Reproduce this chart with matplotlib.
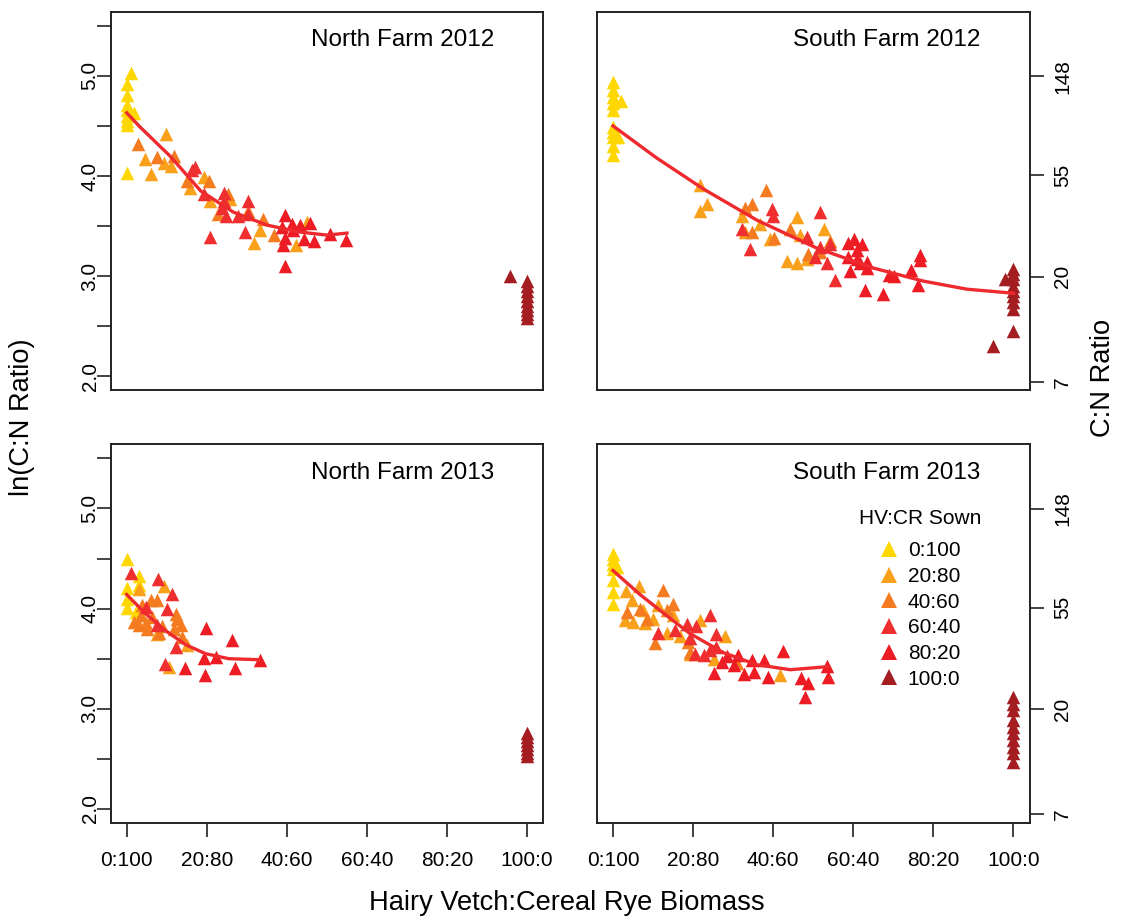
import numpy as np
import matplotlib
matplotlib.use('Agg')
import matplotlib.pyplot as plt
from matplotlib.lines import Line2D

plt.rcParams['font.family'] = ['Liberation Sans', 'DejaVu Sans']

# sown mixtures (legend) and their colours
sown = ['0:100', '20:80', '40:60', '60:40', '80:20', '100:0']
sown_colors = ['#FFD700', '#F9A11B', '#F47B20', '#EE2E2F', '#ED1C24', '#A31D21']

x_ticks = [0, 20, 40, 60, 80, 100]
x_ticklabels = ['0:100', '20:80', '40:60', '60:40', '80:20', '100:0']
ln_ticks = [2.0, 2.5, 3.0, 3.5, 4.0, 4.5, 5.0, 5.5]
ln_ticklabels = ['2.0', '', '3.0', '', '4.0', '', '5.0', '']
cn_ticks = [7, 20, 55, 148]

# North Farm 2012 (x = HV % of biomass, y = ln(C:N), g = sown mixture index)
nf12_x = [1.1, 0, 0, 0, 0, 0, 0, 0, 1.8, 0,
          9.7, 4.6, 9.2, 11.0, 6.0, 19.2, 15.8, 20.8, 25.8, 31.7, 33.3, 45.0, 42.3,
          2.9, 7.6, 11.9, 20.6, 15.0, 25.4, 22.9, 30.2, 34.0, 36.7,
          17.0, 16.2, 19.2, 24.3, 24.3, 23.7, 24.8, 20.7, 30.2, 30.4, 27.9, 29.6,
          39.6, 38.8, 41.2, 43.3, 45.8, 39.6, 39.0, 44.2, 46.7, 39.6, 50.8, 54.7, 41.4,
          95.7, 100, 100, 100, 100, 100, 100, 100, 100, 100]
nf12_y = [5.03, 4.92, 4.81, 4.71, 4.66, 4.60, 4.55, 4.51, 4.63, 4.03,
          4.42, 4.17, 4.13, 4.10, 4.02, 3.99, 3.88, 3.75, 3.77, 3.33, 3.46, 3.54, 3.31,
          4.32, 4.19, 4.20, 3.95, 3.95, 3.82, 3.62, 3.65, 3.57, 3.41,
          4.09, 4.06, 3.82, 3.83, 3.75, 3.68, 3.60, 3.39, 3.75, 3.62, 3.60, 3.44,
          3.61, 3.49, 3.52, 3.51, 3.53, 3.38, 3.31, 3.37, 3.35, 3.10, 3.42, 3.36, 3.46,
          3.00, 2.95, 2.90, 2.85, 2.80, 2.75, 2.70, 2.66, 2.62, 2.58]
nf12_g = [0] * 10 + [1] * 13 + [2] * 10 + [3] * 12 + [4] * 13 + [5] * 10

# South Farm 2012
sf12_x = [0, 0, 0, 0, 0, 2.0, 0, 0, 0, 1.3, 0, 0,
          21.75, 23.4, 21.6, 32.2, 36.75, 39.25, 45.9, 43.4, 45.9, 48.4, 52.6, 33.0, 46.75,
          38.25, 33.0, 34.8, 34.7, 40.1, 44.1, 48.8, 51.75, 54.25,
          39.7, 39.9, 32.2, 34.25, 48.4, 51.75, 50.5, 53.4, 51.75, 54.25, 55.5,
          58.8, 60.1, 62.2, 60.9, 58.8, 60.9, 59.25, 61.75, 63.4, 63.4, 63.0, 67.4, 68.8,
          70.25, 74.4, 76.6, 76.6, 76.1,
          100, 100, 100, 100, 100, 100, 100, 100, 100, 94.9, 98.0]
sf12_y = [4.94, 4.86, 4.79, 4.73, 4.66, 4.75, 4.49, 4.44, 4.39, 4.39, 4.30, 4.21,
          3.91, 3.72, 3.65, 3.60, 3.52, 3.37, 3.59, 3.15, 3.13, 3.17, 3.47, 3.44, 3.41,
          3.86, 3.68, 3.72, 3.44, 3.38, 3.47, 3.22, 3.24, 3.35,
          3.67, 3.60, 3.47, 3.27, 3.39, 3.64, 3.19, 3.13, 3.29, 3.32, 2.96,
          3.33, 3.37, 3.32, 3.26, 3.19, 3.17, 3.05, 3.13, 3.14, 3.08, 2.86, 2.82, 3.01,
          3.00, 3.06, 3.21, 3.16, 2.91,
          3.07, 3.02, 2.97, 2.90, 2.85, 2.80, 2.74, 2.67, 2.45, 2.30, 2.97]
sf12_g = [0] * 12 + [1] * 13 + [2] * 9 + [3] * 11 + [4] * 18 + [5] * 11

# North Farm 2013
nf13_x = [0, 3.0, 0, 0, 0, 3.0, 2.2,
          3.0, 9.3, 10.5, 15.1, 7.6,
          6.0, 7.6, 3.9, 1.8, 3.0, 5.1, 3.5, 6.4, 12.2, 12.6, 13.5, 8.9, 11.8, 8.0, 13.9, 4.7,
          1.0, 7.9, 11.2, 4.7, 10.1, 7.6, 12.4, 9.5,
          19.7, 26.2, 14.5, 19.3, 22.4, 19.5, 27.0, 33.2,
          100, 100, 100, 100, 100, 100, 100]
nf13_y = [4.50, 4.33, 4.21, 4.10, 4.01, 4.24, 3.97,
          4.20, 4.23, 3.42, 3.64, 3.75,
          4.09, 4.09, 4.04, 3.87, 3.84, 3.80, 3.94, 3.92, 3.95, 3.90, 3.84, 3.83, 3.80, 3.76, 3.72, 3.86,
          4.36, 4.30, 4.15, 4.02, 4.00, 3.84, 3.62, 3.45,
          3.81, 3.69, 3.41, 3.51, 3.52, 3.34, 3.41, 3.49,
          2.76, 2.72, 2.68, 2.64, 2.60, 2.56, 2.53]
nf13_g = [0] * 7 + [1] * 5 + [2] * 16 + [3] * 8 + [4] * 8 + [5] * 7

# South Farm 2013
sf13_x = [0, 0, 0, 0, 0, 0, 0, 0.9,
          6.6, 3.25, 4.7, 3.0, 4.9, 8.0, 11.3, 15.1, 13.4, 16.75, 21.75, 28.0, 19.25, 25.1,
          41.6, 7.6, 9.9,
          12.6, 14.9, 13.6, 3.6, 6.75, 8.4, 10.5, 18.6, 19.25, 30.9,
          11.3, 18.4, 20.75, 24.1, 25.75, 19.25, 20.5, 22.6, 24.1, 25.75, 15.5,
          28.4, 31.3, 27.2, 30.1, 32.6, 35.1, 34.7, 37.6, 25.25, 38.8, 42.4, 46.9, 48.8,
          48.0, 53.4, 53.6,
          100, 100, 100, 100, 100, 100, 100, 100, 100, 100]
sf13_y = [4.55, 4.50, 4.45, 4.40, 4.29, 4.17, 4.05, 4.42,
          4.23, 4.18, 4.09, 3.89, 3.87, 3.86, 4.04, 3.94, 3.76, 3.73, 3.89, 3.73, 3.55, 3.50,
          3.34, 3.99, 3.90,
          4.19, 4.05, 3.99, 3.97, 4.00, 3.90, 3.66, 3.67, 3.57, 3.46,
          3.76, 3.85, 3.83, 3.94, 3.75, 3.71, 3.55, 3.54, 3.59, 3.62, 3.79,
          3.53, 3.54, 3.47, 3.44, 3.35, 3.37, 3.49, 3.49, 3.36, 3.32, 3.58, 3.31, 3.26,
          3.12, 3.43, 3.32,
          3.12, 3.05, 2.99, 2.89, 2.82, 2.76, 2.69, 2.62, 2.56, 2.47]
sf13_g = [0] * 8 + [1] * 17 + [2] * 10 + [3] * 11 + [4] * 16 + [5] * 10

# fitted curves
nf12_fit_x = [0, 3.3, 10.8, 18.5, 26.6, 35, 43.3, 50, 55]
nf12_fit_y = [4.63, 4.49, 4.20, 3.85, 3.64, 3.51, 3.44, 3.41, 3.43]
sf12_fit_x = [0, 10.9, 22.6, 35.9, 50.9, 65.1, 77.6, 88.4, 100]
sf12_fit_y = [4.50, 4.18, 3.87, 3.56, 3.28, 3.08, 2.95, 2.87, 2.83]
nf13_fit_x = [0, 4.7, 9.7, 14.7, 19.7, 25.5, 33]
nf13_fit_y = [4.14, 3.95, 3.78, 3.64, 3.55, 3.50, 3.49]
sf13_fit_x = [0, 6.75, 13.4, 19.25, 27.6, 35.9, 44.25, 53.4]
sf13_fit_y = [4.38, 4.14, 3.93, 3.75, 3.56, 3.44, 3.39, 3.42]

panels = [
    ('North Farm 2012', nf12_x, nf12_y, nf12_g, nf12_fit_x, nf12_fit_y, [110.7, 11.7]),
    ('South Farm 2012', sf12_x, sf12_y, sf12_g, sf12_fit_x, sf12_fit_y, [597.0, 11.7]),
    ('North Farm 2013', nf13_x, nf13_y, nf13_g, nf13_fit_x, nf13_fit_y, [110.7, 444.3]),
    ('South Farm 2013', sf13_x, sf13_y, sf13_g, sf13_fit_x, sf13_fit_y, [597.0, 444.3]),
]

W, H = 1122, 917
fig = plt.figure(figsize=(W / 100, H / 100), dpi=100)
pw, ph = 432.5, 378.7

for i, (title, xs, ys, gs, fx, fy, (left, top)) in enumerate(panels):
    ax = fig.add_axes([left / W, 1 - (top + ph) / H, pw / W, ph / H])
    xs, ys, gs = np.array(xs), np.array(ys), np.array(gs)
    for k in range(len(sown)):
        m = gs == k
        ax.scatter(xs[m], ys[m], marker='^', s=95, color=sown_colors[k],
                   linewidths=0, zorder=2)
    ax.plot(fx, fy, color='#EE2A2F', lw=2.4, solid_joinstyle='round', zorder=3)
    ax.set_xlim(-4, 104)
    ax.set_ylim(1.86, 5.64)
    ax.text(0.886, 0.925, title, transform=ax.transAxes, ha='right', va='center',
            fontsize=17.5)
    for sp in ax.spines.values():
        sp.set_linewidth(1.4)
        sp.set_color('#222222')
    ax.tick_params(length=10, width=1.2, color='#222222', labelsize=15, pad=7)
    ax.tick_params(axis='x', pad=10.5)
    right = i % 2 == 1
    bottom = i >= 2
    if bottom:
        ax.set_xticks(x_ticks)
        ax.set_xticklabels(x_ticklabels)
    else:
        ax.set_xticks([])
    if right:
        ax.yaxis.tick_right()
        ax.set_yticks(np.log(cn_ticks))
        ax.set_yticklabels([str(c) for c in cn_ticks], rotation=90, va='center')
    else:
        ax.set_yticks(ln_ticks)
        ax.set_yticklabels(ln_ticklabels, rotation=90, va='center')
        ax.tick_params(axis='y', pad=-2)
    if i == 3:
        handles = [Line2D([], [], marker='^', ls='', markersize=11,
                          markerfacecolor=c, markeredgewidth=0) for c in sown_colors]
        ax.legend(handles, sown, loc='upper left',
                  bbox_to_anchor=(866 / W, 1 - 531 / H),
                  bbox_transform=fig.transFigure, frameon=False,
                  fontsize=15, labelspacing=0.32,
                  handletextpad=0.3, handlelength=1.2, borderpad=0)

fig.text(920 / W, 1 - 518 / H, 'HV:CR Sown', ha='center', va='center', fontsize=15)
fig.text(567 / W, 1 - 903 / H, 'Hairy Vetch:Cereal Rye Biomass', ha='center',
         va='center', fontsize=19.6)
fig.text(22 / W, 1 - 417 / H, 'ln(C:N Ratio)', ha='center', va='center',
         rotation=90, fontsize=19.6)
fig.text(1103 / W, 1 - 378 / H, 'C:N Ratio', ha='center', va='center',
         rotation=90, fontsize=19.6)

fig.savefig('out.png', dpi=100)
